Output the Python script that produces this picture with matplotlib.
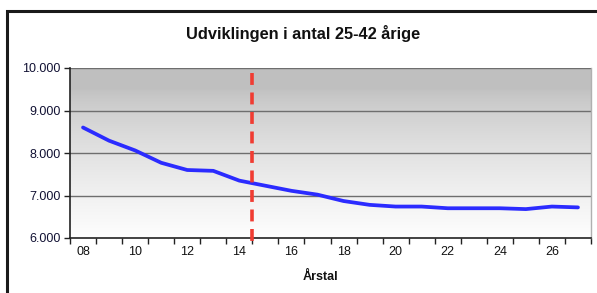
import matplotlib
matplotlib.use("Agg")
import matplotlib.pyplot as plt
import numpy as np
from matplotlib.patches import Rectangle
from matplotlib.ticker import FixedLocator, FuncFormatter

years = ["08", "09", "10", "11", "12", "13", "14", "15", "16", "17",
         "18", "19", "20", "21", "22", "23", "24", "25", "26", "27"]
values = [8600, 8290, 8060, 7770, 7600, 7580, 7350, 7230, 7110, 7020,
          6870, 6780, 6740, 6740, 6700, 6700, 6700, 6680, 6740, 6720]
yticks = [6000, 7000, 8000, 9000, 10000]
ytick_labels = ["6.000", "7.000", "8.000", "9.000", "10.000"]
title = "Udviklingen i antal 25-42 årige"
xlabel = "Årstal"
split_after = "14"

plt.rcParams['font.family'] = ['Liberation Sans', 'DejaVu Sans']

W, H = 597, 293
fig = plt.figure(figsize=(W / 100, H / 100), dpi=100)
fig.patch.set_facecolor("white")

# outer frame
fig.patches.append(Rectangle((7 / W, -0.1), 1.2, 1 - 11 / H + 0.1,
                             transform=fig.transFigure, fill=False,
                             edgecolor="#1a1a1a", linewidth=2.2))

l, r, t, b = 70, 591, 68, 238
ax = fig.add_axes([l / W, 1 - b / H, (r - l) / W, (b - t) / H])

n = len(years)
x = np.arange(n)

# gradient background (row 0 = top)
grad = np.linspace(0, 1, 256)
top_c = 0.75
bot_c = 0.995
g = np.clip((grad - 0.12) / 0.88, 0, 1) ** 0.7
col = top_c + (bot_c - top_c) * g
img = np.repeat(col[:, None, None], 3, axis=2)
img = np.broadcast_to(img, (256, 2, 3))
ax.imshow(img, extent=[-0.5, n - 0.5, yticks[0], yticks[-1]], aspect="auto",
          origin="upper", zorder=0)
ax.set_xlim(-0.5, n - 0.5)
ax.set_ylim(yticks[0], yticks[-1])

for yv in yticks[1:]:
    ax.axhline(yv, color="#6e6e6e", linewidth=1.0, zorder=1)

ax.plot(x, values, color="#2b2bff", linewidth=2.7, zorder=3,
        solid_capstyle="round", solid_joinstyle="round")

# dashed split line, drawn top to bottom, slightly past the axis
sx = years.index(split_after) + 0.5
ax.plot([sx, sx], [0.97, -0.025], transform=ax.get_xaxis_transform(),
        color="#f03c32", linewidth=2.6, linestyle=(0, (3.3, 2.1)),
        zorder=4, clip_on=False)

ax.set_yticks(yticks)
ax.set_yticklabels(ytick_labels)
ax.xaxis.set_major_locator(FixedLocator(np.arange(-0.5, n, 1.0)))
ax.xaxis.set_major_formatter(FuncFormatter(lambda v, p: ""))
ax.xaxis.set_minor_locator(FixedLocator(x[::2]))
ax.set_xticklabels([years[i] for i in range(0, n, 2)], minor=True)
ax.tick_params(axis="x", which="minor", length=0, pad=6, labelsize=9,
               colors="#111111")
ax.tick_params(axis="x", which="major", length=4, width=1, direction="out",
               color="#222222")
ax.tick_params(axis="y", length=4, width=1, direction="out", color="#222222",
               labelsize=9, labelcolor="#111133", pad=3)

ax.spines["top"].set_visible(False)
ax.spines["right"].set_color("#b0b0b0")
ax.spines["right"].set_linewidth(1.0)
ax.spines["left"].set_color("#222222")
ax.spines["bottom"].set_color("#222222")
ax.spines["left"].set_linewidth(1.2)
ax.spines["bottom"].set_linewidth(1.2)

fig.text(303 / W, 1 - 34 / H, title, ha="center", va="center",
         fontsize=11.8, fontweight="bold", color="#111111")
fig.text(320 / W, 1 - 277 / H, xlabel, ha="center", va="center",
         fontsize=9, fontweight="bold", color="#111111")

fig.savefig("out.png", dpi=100)
